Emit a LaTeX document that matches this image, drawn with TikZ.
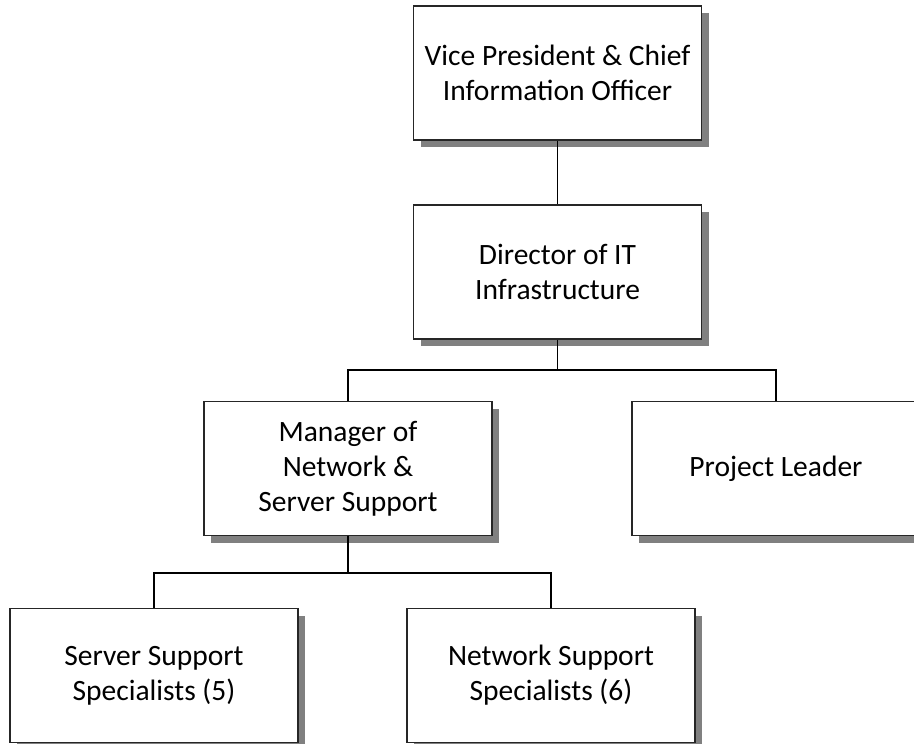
\documentclass[tikz,border=0pt]{standalone}
\usepackage{fontspec}
\setmainfont{Carlito}
\usetikzlibrary{shadows}
\begin{document}
\begin{tikzpicture}[x=1pt,y=-1pt,
  orgbox/.style={draw=black!85, line width=1.6pt, fill=white, rectangle,
    minimum width=288pt, minimum height=134pt, align=center, inner sep=0pt,
    font=\fontsize{29.5}{35}\selectfont,
    general shadow={fill=black!50, shadow xshift=7pt, shadow yshift=-7pt}},
  link/.style={draw=black, line width=1.8pt}]
\useasboundingbox (0,0) rectangle (914,744);
\node[orgbox] (vp)  at (557.5,73)  {Vice President \& Chief\\Information Officer};
\node[orgbox] (dir) at (557.5,272) {Director of IT\\Infrastructure};
\node[orgbox] (mgr) at (348,468.5) {Manager of\\Network \&\\Server Support};
\node[orgbox] (pl)  at (776,468.5) {Project Leader};
\node[orgbox] (ss)  at (154,675.5) {Server Support\\Specialists (5)};
\node[orgbox] (ns)  at (551,675.5) {Network Support\\Specialists (6)};
\coordinate (b1) at (557.5,370);
\coordinate (b2) at (348,573);
\draw[link] (vp.south) -- (dir.north);
\draw[link] (dir.south) -- (b1);
\draw[link] (mgr.north) -- (mgr.north |- b1) -- (pl.north |- b1) -- (pl.north);
\draw[link] (mgr.south) -- (b2);
\draw[link] (ss.north) -- (ss.north |- b2) -- (ns.north |- b2) -- (ns.north);
\end{tikzpicture}
\end{document}
